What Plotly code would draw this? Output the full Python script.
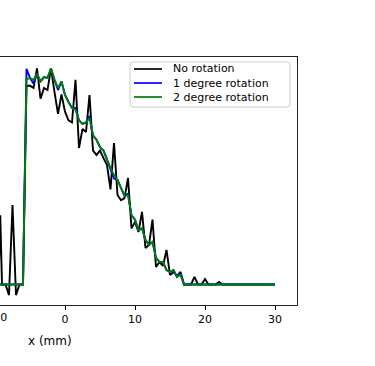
import plotly.graph_objects as go

# x positions (mm)
x_mm = [-35.0, -10.0, -9.5, -9.25, -9.0, -8.5, -8.0, -7.5, -7.0, -6.5, -6.0,
        -5.5, -5.0, -4.5, -4.0, -3.5, -3.0, -2.5, -2.0, -1.5, -1.0, -0.5,
        0.0, 0.5, 1.0, 1.5, 2.0, 2.5, 3.0, 3.5, 4.0, 4.5, 5.0, 5.5, 6.0, 6.5,
        7.0, 7.5, 8.0, 8.5, 9.0, 9.5, 10.0, 10.5, 11.0, 11.5, 12.0, 12.5,
        13.0, 13.5, 14.0, 14.5, 15.0, 15.5, 16.0, 16.5, 17.0, 17.5, 18.0,
        18.5, 19.0, 19.5, 20.0, 20.5, 21.0, 21.5, 22.0, 22.5, 23.0, 30.0]

no_rotation = [0, 0, 0, 0.32, 0, 0, -0.049, 0.368, -0.049, 0, 0,
               0.92, 0.92, 0.91, 1.0, 0.86, 0.91, 0.90, 1.0, 0.89, 0.79, 0.88,
               0.80, 0.76, 0.75, 0.947, 0.632, 0.72, 0.706, 0.877, 0.62, 0.60,
               0.62, 0.585, 0.553, 0.44, 0.655, 0.414, 0.39, 0.40, 0.493, 0.26,
               0.29, 0.243, 0.336, 0.169, 0.183, 0.30, 0.081, 0.104, 0.086,
               0.16, 0.044, 0.058, 0.039, 0.058, 0, 0, 0, 0.035, 0, 0, 0.025,
               0, 0, 0, 0.012, 0, 0, 0]

rot_1deg = [0, 0, 0, 0, 0, 0, 0, 0, 0, 0, 0,
            0.998, 0.956, 0.93, 0.975, 0.94, 0.96, 0.956, 1.0, 0.947, 0.90,
            0.94, 0.877, 0.845, 0.817, 0.817, 0.76, 0.743, 0.75, 0.78, 0.69,
            0.67, 0.636, 0.62, 0.576, 0.54, 0.49, 0.484, 0.447, 0.41, 0.42,
            0.32, 0.30, 0.252, 0.26, 0.206, 0.183, 0.197, 0.123, 0.104, 0.104,
            0.067, 0.058, 0.067, 0.035, 0.053, 0, 0, 0, 0, 0, 0, 0, 0, 0, 0,
            0, 0, 0, 0]

rot_2deg = [0, 0, 0, 0, 0, 0, 0, 0, 0, 0, 0,
            0.95, 0.956, 0.947, 0.975, 0.94, 0.96, 0.956, 1.0, 0.947, 0.91,
            0.94, 0.877, 0.845, 0.817, 0.808, 0.76, 0.743, 0.75, 0.77, 0.69,
            0.67, 0.636, 0.62, 0.576, 0.54, 0.507, 0.484, 0.447, 0.41, 0.414,
            0.32, 0.30, 0.252, 0.26, 0.206, 0.183, 0.197, 0.123, 0.104, 0.104,
            0.067, 0.058, 0.067, 0.035, 0.044, 0, 0, 0, 0, 0, 0, 0, 0, 0, 0,
            0, 0, 0, 0]

series_names = ["No rotation", "1 degree rotation", "2 degree rotation"]
series_colors = ["#000000", "#0000ff", "#008000"]
x_tick_vals = [0, 10, 20, 30]
x_tick_text = ["0", "10", "20", "30"]

W, H = 375, 366
ML, MR, MT, MB = 0, 78, 57, 61
PW = W - ML - MR
PH = H - MT - MB
FONT = "DejaVu Sans"


def px(xp):
    return (xp - ML) / PW


def py(yp):
    return (H - MB - yp) / PH


fig = go.Figure()
for name, ys, col in zip(series_names, [no_rotation, rot_1deg, rot_2deg], series_colors):
    fig.add_trace(go.Scatter(x=x_mm, y=ys, mode="lines", name=name,
                             line=dict(color=col, width=1.9), showlegend=False))

fig.update_layout(
    width=W, height=H,
    margin=dict(l=ML, r=MR, t=MT, b=MB, pad=0),
    paper_bgcolor="white", plot_bgcolor="white",
    font=dict(family=FONT, size=11, color="#000"),
    xaxis=dict(range=[-65 / 7, 232 / 7], tickvals=x_tick_vals, ticktext=x_tick_text,
               ticks="outside", ticklen=4, tickwidth=1, tickcolor="#000",
               showline=True, linecolor="#222", linewidth=1.2, mirror=True,
               showgrid=False, zeroline=False,
               tickfont=dict(family=FONT, size=11, color="#000")),
    yaxis=dict(range=[-0.0949, 1.053], side="right", showline=True,
               linecolor="#222", linewidth=1.2, showticklabels=False, ticks="",
               showgrid=False, zeroline=False),
)

annotations = [
    dict(text="x (mm)", x=px(50), y=py(341), xref="paper", yref="paper",
         xanchor="center", yanchor="middle", showarrow=False,
         font=dict(family=FONT, size=12, color="#000")),
    dict(text="\u221210", x=px(-5), y=py(317), xref="paper", yref="paper",
         xanchor="center", yanchor="middle", showarrow=False,
         font=dict(family=FONT, size=11, color="#000")),
]

# legend (manual, matplotlib style)
lx0, ly0, lx1, ly1, r = 130, 62, 290, 107, 3
path = (f"M {px(lx0 + r)} {py(ly0)} L {px(lx1 - r)} {py(ly0)} "
        f"Q {px(lx1)} {py(ly0)} {px(lx1)} {py(ly0 + r)} "
        f"L {px(lx1)} {py(ly1 - r)} Q {px(lx1)} {py(ly1)} {px(lx1 - r)} {py(ly1)} "
        f"L {px(lx0 + r)} {py(ly1)} Q {px(lx0)} {py(ly1)} {px(lx0)} {py(ly1 - r)} "
        f"L {px(lx0)} {py(ly0 + r)} Q {px(lx0)} {py(ly0)} {px(lx0 + r)} {py(ly0)} Z")
shapes = [dict(type="path", path=path, xref="paper", yref="paper",
               line=dict(color="#cccccc", width=1), fillcolor="rgba(255,255,255,0.8)")]
rows = [69, 83, 97]
for name, col, yr in zip(series_names, series_colors, rows):
    shapes.append(dict(type="line", xref="paper", yref="paper",
                       x0=px(134), x1=px(162), y0=py(yr), y1=py(yr),
                       line=dict(color=col, width=1.7)))
    annotations.append(dict(text=name, x=px(171), y=py(yr), xref="paper", yref="paper",
                            xanchor="left", yanchor="middle", showarrow=False,
                            font=dict(family=FONT, size=11, color="#000")))

fig.update_layout(shapes=shapes, annotations=annotations)
fig.write_html("out.html", config={"displayModeBar": False},
               post_script="document.body.style.margin='0';document.body.style.overflow='hidden';")
